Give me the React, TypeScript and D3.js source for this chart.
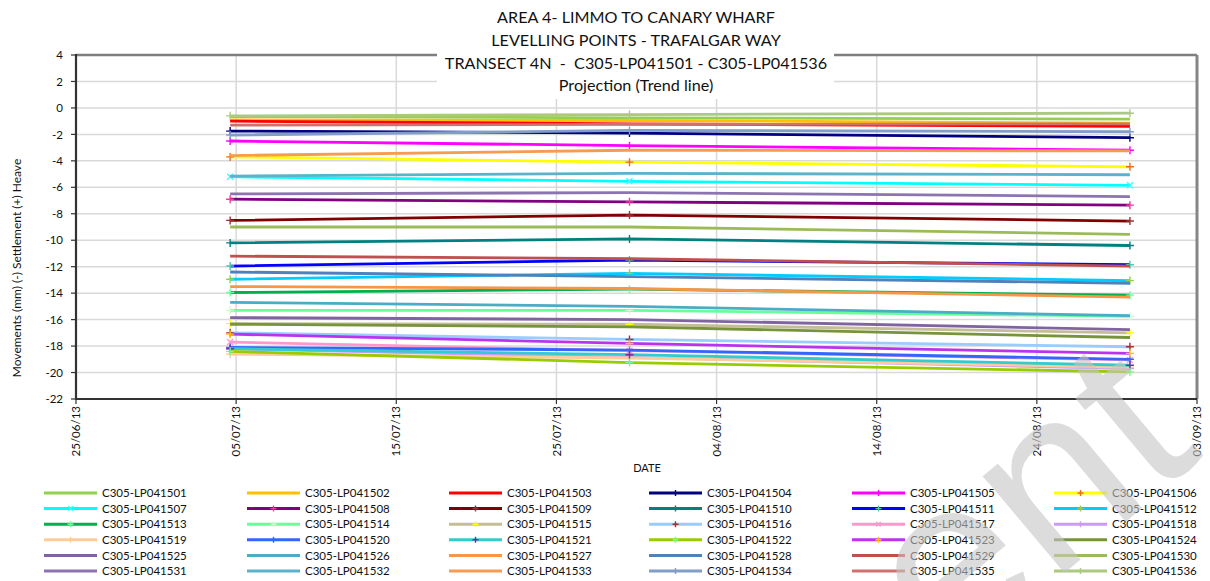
import * as d3 from "d3";

const WIDTH = 1210;
const HEIGHT = 581;

const titleLines = [
  "AREA 4- LIMMO TO CANARY WHARF",
  "LEVELLING POINTS - TRAFALGAR WAY",
  "TRANSECT 4N  -  C305-LP041501 - C305-LP041536",
  "Projection (Trend line)",
];

const xTickLabels = ["25/06/13", "05/07/13", "15/07/13", "25/07/13", "04/08/13", "14/08/13", "24/08/13", "03/09/13"];

// survey dates (trend line points)
const surveyDates = ["2013-07-04T15:00", "2013-07-29T13:30", "2013-08-29T19:30"];

const seriesNames = d3.range(1, 37).map((i) => `C305-LP0415${String(i).padStart(2, "0")}`);

const seriesColors = [
  "#92D050", "#FFC000", "#FF0000", "#000080", "#FF00FF", "#FFFF00",
  "#00FFFF", "#800080", "#800000", "#008080", "#0000FF", "#00CCFF",
  "#00B050", "#66FF99", "#C4BD97", "#99CCFF", "#FF99CC", "#CC99FF",
  "#FFCC99", "#3366FF", "#33CCCC", "#99CC00", "#BB33EE", "#77933C",
  "#8064A2", "#4BACC6", "#F79646", "#4F81BD", "#C0504D", "#9BBB59",
  "#8C74B0", "#5AB3CB", "#F89B52", "#809EC8", "#CF726F", "#ABCA80",
];

// "" = no marker
const markerColors = [
  "", "", "", "#000080", "#FF00FF", "#F26B1D",
  "#33FFFF", "#FF3399", "#993333", "#008080", "#4DC9B0", "#92D050",
  "#66FF99", "#CCFFCC", "#FFFF00", "#993333", "#FF99CC", "#CC99FF",
  "#FFCC99", "#3366FF", "#7030A0", "#66FF99", "#FFC000", "",
  "", "", "", "", "", "",
  "", "", "", "#809EC8", "", "#ABCA80",
];

const crossMarkers = [7, 17];

const readings = [
  [-0.65, -0.75, -0.85],
  [-0.9, -0.95, -1.15],
  [-1.0, -1.2, -1.4],
  [-1.75, -1.9, -2.25],
  [-2.5, -2.85, -3.2],
  [-3.7, -4.1, -4.45],
  [-5.2, -5.55, -5.85],
  [-6.9, -7.1, -7.35],
  [-8.5, -8.1, -8.55],
  [-10.2, -9.9, -10.4],
  [-11.95, -11.5, -11.85],
  [-12.95, -12.5, -13.05],
  [-13.95, -13.7, -14.15],
  [-15.3, -15.3, -15.75],
  [-16.3, -16.35, -17.0],
  [-17.0, -17.5, -18.05],
  [-17.7, -18.35, -19.05],
  [-18.2, -18.85, -19.7],
  [-18.6, -18.9, -19.6],
  [-18.1, -18.3, -19.0],
  [-18.2, -18.65, -19.45],
  [-18.4, -19.25, -19.95],
  [-17.1, -17.8, -18.55],
  [-16.35, -16.55, -17.35],
  [-15.85, -16.0, -16.75],
  [-14.7, -15.0, -15.7],
  [-13.5, -13.65, -14.3],
  [-12.4, -12.75, -13.25],
  [-11.2, -11.4, -11.95],
  [-9.0, -9.0, -9.55],
  [-6.5, -6.4, -6.7],
  [-5.15, -4.95, -5.05],
  [-3.6, -3.2, -3.25],
  [-2.05, -1.7, -1.8],
  [-1.3, -1.25, -1.2],
  [-0.6, -0.5, -0.4],
];

const FONT = "Lato, 'Open Sans', sans-serif";

const parseTick = d3.timeParse("%d/%m/%y");
const parseDate = d3.timeParse("%Y-%m-%dT%H:%M");

const plot = { left: 76, right: 1197, top: 55, bottom: 399 };

function Marker({ x, y, color, cross, size = 4 }: { x: number; y: number; color: string; cross: boolean; size?: number }) {
  const c = size * 0.75;
  const d = cross ? `M${-c},${-c}L${c},${c}M${-c},${c}L${c},${-c}` : `M${-size},0H${size}M0,${-size}V${size}`;
  return <path d={d} transform={`translate(${x},${y})`} stroke={color} strokeWidth={1.4} fill="none" />;
}

export default function App() {
  const tickDates = xTickLabels.map((t) => parseTick(t) as Date);
  const dates = surveyDates.map((d) => parseDate(d) as Date);

  const x = d3
    .scaleTime()
    .domain([tickDates[0], tickDates[tickDates.length - 1]])
    .range([plot.left, plot.right]);

  const y = d3.scaleLinear().domain([-22, 4]).range([plot.bottom, plot.top]);
  const yTicks = d3.range(-22, 4.1, 2);

  const line = d3
    .line<number>()
    .x((_, i) => x(dates[i]))
    .y((v) => y(v));

  const legendCols = [44, 247, 449, 649, 852, 1054];
  const legendRowY = (r: number) => 493 + r * 15.6;

  return (
    <div style={{ position: "absolute", left: 0, top: 0 }}>
      <svg width={WIDTH} height={HEIGHT} style={{ display: "block", background: "#fff" }} fontFamily={FONT}>
        {/* gridlines */}
        {yTicks.map((t) => (
          <line key={`gy${t}`} x1={plot.left} x2={plot.right} y1={y(t)} y2={y(t)} stroke="#D9D9D9" strokeWidth={1.5} />
        ))}
        {tickDates.map((d, i) => (
          <line key={`gx${i}`} x1={x(d)} x2={x(d)} y1={plot.top} y2={plot.bottom} stroke="#D9D9D9" strokeWidth={1.5} />
        ))}

        {/* plot border */}
        <line x1={plot.left} x2={plot.right} y1={plot.top} y2={plot.top} stroke="#7F7F7F" strokeWidth={2.5} />
        <line x1={plot.right} x2={plot.right} y1={plot.top} y2={plot.bottom} stroke="#868686" strokeWidth={3} />
        <line x1={plot.left} x2={plot.left} y1={plot.top - 1} y2={plot.bottom + 1} stroke="#333" strokeWidth={2.2} />
        <line x1={plot.left} x2={plot.right} y1={plot.bottom} y2={plot.bottom} stroke="#333" strokeWidth={2.2} />

        {/* y axis */}
        {yTicks.map((t) => (
          <g key={`ty${t}`}>
            <line x1={plot.left - 5} x2={plot.left} y1={y(t)} y2={y(t)} stroke="#333" strokeWidth={1.2} />
            <text x={63} y={y(t)} dy="0.36em" textAnchor="end" fontSize={11.5} fill="#111">
              {t}
            </text>
          </g>
        ))}
        <text
          transform={`translate(17,268) rotate(-90)`}
          dy="0.35em"
          textAnchor="middle"
          fontSize={12}
          fill="#111"
        >
          Movements (mm) (-) Settlement (+) Heave
        </text>

        {/* x axis */}
        {tickDates.map((d, i) => (
          <g key={`tx${i}`}>
            <line x1={x(d)} x2={x(d)} y1={plot.bottom} y2={plot.bottom + 5} stroke="#333" strokeWidth={1.2} />
            <text
              transform={`translate(${x(d)},${plot.bottom + 7}) rotate(-90)`}
              dy="0.36em"
              textAnchor="end"
              fontSize={11.5}
              fill="#111"
            >
              {xTickLabels[i]}
            </text>
          </g>
        ))}
        <text x={647} y={472} textAnchor="middle" fontSize={11} fill="#111">
          DATE
        </text>

        {/* series */}
        {readings.map((vals, s) => (
          <g key={`s${s}`}>
            <path d={line(vals) || ""} fill="none" stroke={seriesColors[s]} strokeWidth={2.8} strokeLinejoin="round" />
            {markerColors[s] &&
              vals.map((v, i) => (
                <Marker key={i} x={x(dates[i])} y={y(v)} color={markerColors[s]} cross={crossMarkers.includes(s + 1)} />
              ))}
          </g>
        ))}

        {/* title */}
        <rect x={437} y={0} width={397} height={99} fill="#fff" />
        {titleLines.map((t, i) => (
          <text
            key={`t${i}`}
            x={636}
            y={23.3 + i * 22.6}
            textAnchor="middle"
            fontSize={16.2}
            fill="#111"
            style={{ whiteSpace: "pre" }}
          >
            {t}
          </text>
        ))}

        {/* legend */}
        {seriesNames.map((name, s) => {
          const col = s % 6;
          const row = Math.floor(s / 6);
          const lx = legendCols[col];
          const ly = legendRowY(row);
          return (
            <g key={`l${s}`}>
              <line x1={lx} x2={lx + 53} y1={ly} y2={ly} stroke={seriesColors[s]} strokeWidth={3} />
              {markerColors[s] && (
                <Marker x={lx + 26.5} y={ly} size={3} color={markerColors[s]} cross={crossMarkers.includes(s + 1)} />
              )}
              <text x={lx + 58} y={ly} dy="0.36em" fontSize={11.5} fill="#111">
                {name}
              </text>
            </g>
          );
        })}

        {/* watermark */}
        <text
          transform="translate(1205,455) rotate(-40)"
          textAnchor="end"
          fontSize={240}
          fontFamily="'Liberation Sans', sans-serif"
          fill="#C4C4C4"
          fillOpacity={0.6}
        >
          Document
        </text>
      </svg>
    </div>
  );
}
